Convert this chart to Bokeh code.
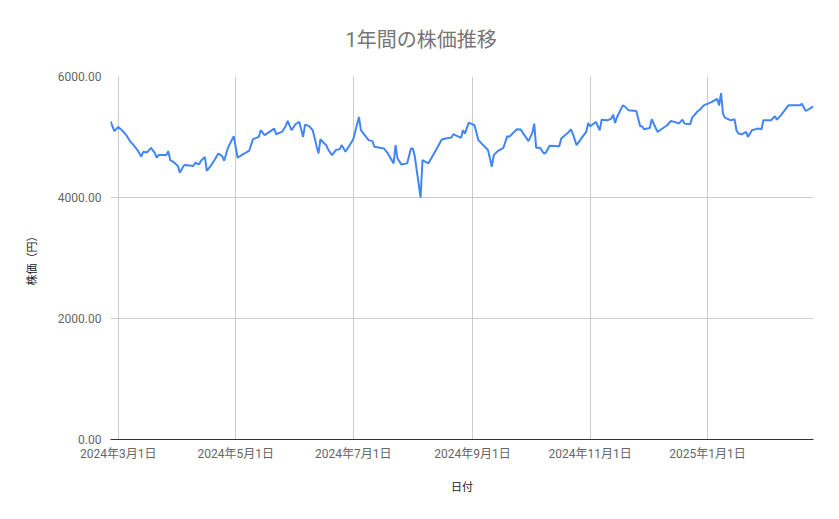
import pandas as pd
from bokeh.plotting import figure
from bokeh.models import Range1d, FixedTicker, NumeralTickFormatter
from bokeh.embed import file_html
from bokeh.resources import INLINE

title_text = "1年間の株価推移"
x_label = "日付"
y_label = "株価（円）"

dates = [
    "2024-02-26", "2024-02-28", "2024-03-01", "2024-03-03", "2024-03-05", "2024-03-07",
    "2024-03-09", "2024-03-11", "2024-03-13", "2024-03-14", "2024-03-16", "2024-03-18",
    "2024-03-20", "2024-03-21", "2024-03-22", "2024-03-26", "2024-03-27", "2024-03-28",
    "2024-03-30", "2024-04-01", "2024-04-02", "2024-04-04", "2024-04-05", "2024-04-09",
    "2024-04-10", "2024-04-12", "2024-04-13", "2024-04-15", "2024-04-16", "2024-04-18",
    "2024-04-20", "2024-04-22", "2024-04-24", "2024-04-25", "2024-04-27", "2024-04-30",
    "2024-05-02", "2024-05-04", "2024-05-07", "2024-05-08", "2024-05-10", "2024-05-13",
    "2024-05-14", "2024-05-16", "2024-05-18", "2024-05-21", "2024-05-22", "2024-05-25",
    "2024-05-27", "2024-05-28", "2024-05-30", "2024-06-01", "2024-06-03", "2024-06-05",
    "2024-06-06", "2024-06-08", "2024-06-10", "2024-06-12", "2024-06-13", "2024-06-14",
    "2024-06-16", "2024-06-17", "2024-06-18", "2024-06-20", "2024-06-22", "2024-06-24",
    "2024-06-25", "2024-06-27", "2024-07-01", "2024-07-04", "2024-07-05", "2024-07-09",
    "2024-07-11", "2024-07-12", "2024-07-17", "2024-07-19", "2024-07-22", "2024-07-23",
    "2024-07-24", "2024-07-26", "2024-07-29", "2024-07-31", "2024-08-01", "2024-08-02",
    "2024-08-05", "2024-08-06", "2024-08-09", "2024-08-13", "2024-08-16", "2024-08-18",
    "2024-08-21", "2024-08-22", "2024-08-26", "2024-08-27", "2024-08-28", "2024-08-30",
    "2024-09-02", "2024-09-04", "2024-09-06", "2024-09-09", "2024-09-11", "2024-09-12",
    "2024-09-14", "2024-09-17", "2024-09-19", "2024-09-20", "2024-09-24", "2024-09-26",
    "2024-09-30", "2024-10-02", "2024-10-03", "2024-10-04", "2024-10-06", "2024-10-08",
    "2024-10-09", "2024-10-11", "2024-10-16", "2024-10-17", "2024-10-21", "2024-10-22",
    "2024-10-23", "2024-10-25", "2024-10-28", "2024-10-30", "2024-10-31", "2024-11-01",
    "2024-11-04", "2024-11-06", "2024-11-07", "2024-11-10", "2024-11-12", "2024-11-13",
    "2024-11-14", "2024-11-15", "2024-11-18", "2024-11-19", "2024-11-21", "2024-11-25",
    "2024-11-26", "2024-11-27", "2024-11-28", "2024-11-29", "2024-12-02", "2024-12-03",
    "2024-12-06", "2024-12-08", "2024-12-11", "2024-12-13", "2024-12-16", "2024-12-17",
    "2024-12-19", "2024-12-20", "2024-12-23", "2024-12-24", "2024-12-27", "2024-12-28",
    "2024-12-30", "2025-01-03", "2025-01-06", "2025-01-07", "2025-01-08", "2025-01-09",
    "2025-01-10", "2025-01-13", "2025-01-15", "2025-01-16", "2025-01-17", "2025-01-19",
    "2025-01-21", "2025-01-22", "2025-01-24", "2025-01-27", "2025-01-29", "2025-01-30",
    "2025-02-03", "2025-02-05", "2025-02-06", "2025-02-08", "2025-02-10", "2025-02-12",
    "2025-02-18", "2025-02-19", "2025-02-21", "2025-02-25",
]

prices = [
    5260, 5096, 5167, 5112, 5040, 4937,
    4866, 4784, 4674, 4756, 4745, 4822,
    4739, 4657, 4701, 4701, 4767, 4619,
    4580, 4521, 4411, 4526, 4537, 4521,
    4575, 4547, 4608, 4669, 4439, 4521,
    4619, 4728, 4685, 4608, 4822, 5014,
    4657, 4701, 4756, 4772, 4964, 5002,
    5112, 5030, 5073, 5139, 5046, 5084,
    5183, 5265, 5112, 5211, 5249, 5002,
    5205, 5183, 5112, 4849, 4728, 4964,
    4892, 4866, 4794, 4701, 4784, 4800,
    4866, 4756, 4958, 5331, 5112, 4948,
    4932, 4838, 4810, 4728, 4564, 4866,
    4646, 4547, 4564, 4810, 4810, 4674,
    4000, 4619, 4564, 4784, 4958, 4975,
    4991, 5046, 4986, 5112, 5057, 5238,
    5194, 4948, 4882, 4784, 4509, 4701,
    4767, 4822, 5014, 5002, 5128, 5122,
    4932, 5068, 5221, 4822, 4822, 4728,
    4739, 4854, 4849, 4975, 5084, 5128,
    5057, 4866, 5002, 5084, 5232, 5178,
    5249, 5112, 5287, 5276, 5303, 5369,
    5232, 5331, 5523, 5507, 5441, 5430,
    5303, 5178, 5178, 5128, 5150, 5293,
    5084, 5128, 5194, 5265, 5238, 5221,
    5287, 5221, 5211, 5320, 5430, 5451,
    5523, 5577, 5632, 5523, 5725, 5385,
    5320, 5276, 5293, 5112, 5057, 5046,
    5084, 5002, 5112, 5139, 5128, 5276,
    5276, 5342, 5287, 5358, 5441, 5523,
    5523, 5549, 5430, 5507,
]

tick_dates = ["2024-03-01", "2024-05-01", "2024-07-01", "2024-09-01", "2024-11-01", "2025-01-01"]
tick_labels = ["2024年3月1日", "2024年5月1日", "2024年7月1日", "2024年9月1日", "2024年11月1日", "2025年1月1日"]
y_ticks = [0, 2000, 4000, 6000]

FONT = "Roboto, 'Noto Sans CJK JP', sans-serif"

x = pd.to_datetime(dates)
tick_ms = [float(t.value // 10**6) for t in pd.to_datetime(tick_dates)]

p = figure(width=823, height=503, x_axis_type="datetime",
           output_backend="svg", toolbar_location=None,
           x_range=Range1d(x[0], x[-1]), y_range=Range1d(0, 6000),
           min_border_left=110, min_border_right=10,
           min_border_top=74, min_border_bottom=64)

p.line(x, prices, line_color="#4285f4", line_width=2)

p.outline_line_color = None
p.background_fill_color = "white"
p.border_fill_color = "white"

p.title.text = title_text
p.title.align = "left"
p.title.offset = 235
p.title.standoff = 50
p.title.text_font = FONT
p.title.text_font_size = "20px"
p.title.text_font_style = "normal"
p.title.text_color = "#757575"

xa = p.xaxis[0]
xa.ticker = FixedTicker(ticks=tick_ms)
xa.major_label_overrides = {t: l for t, l in zip(tick_ms, tick_labels)}
xa.axis_label = x_label
xa.axis_line_color = "#333333"
xa.major_tick_line_color = None
xa.minor_tick_line_color = None
xa.major_label_standoff = 1
xa.axis_label_standoff = 17
xa.major_label_text_font = FONT
xa.major_label_text_font_size = "12px"
xa.major_label_text_color = "#666666"
xa.axis_label_text_font = FONT
xa.axis_label_text_font_size = "11px"
xa.axis_label_text_font_style = "normal"
xa.axis_label_text_color = "#222222"

ya = p.yaxis[0]
ya.ticker = FixedTicker(ticks=y_ticks)
ya.formatter = NumeralTickFormatter(format="0.00")
ya.axis_label = y_label
ya.axis_line_color = None
ya.major_tick_line_color = None
ya.minor_tick_line_color = None
ya.major_label_standoff = 3
ya.axis_label_standoff = 16
ya.major_label_text_font = FONT
ya.major_label_text_font_size = "12px"
ya.major_label_text_color = "#666666"
ya.axis_label_text_font = FONT
ya.axis_label_text_font_size = "11px"
ya.axis_label_text_font_style = "normal"
ya.axis_label_text_color = "#222222"

p.xgrid.ticker = FixedTicker(ticks=tick_ms)
p.ygrid.ticker = FixedTicker(ticks=y_ticks)
p.xgrid.grid_line_color = "#cccccc"
p.ygrid.grid_line_color = "#cccccc"

open("out.html", "w").write(file_html(p, INLINE))
